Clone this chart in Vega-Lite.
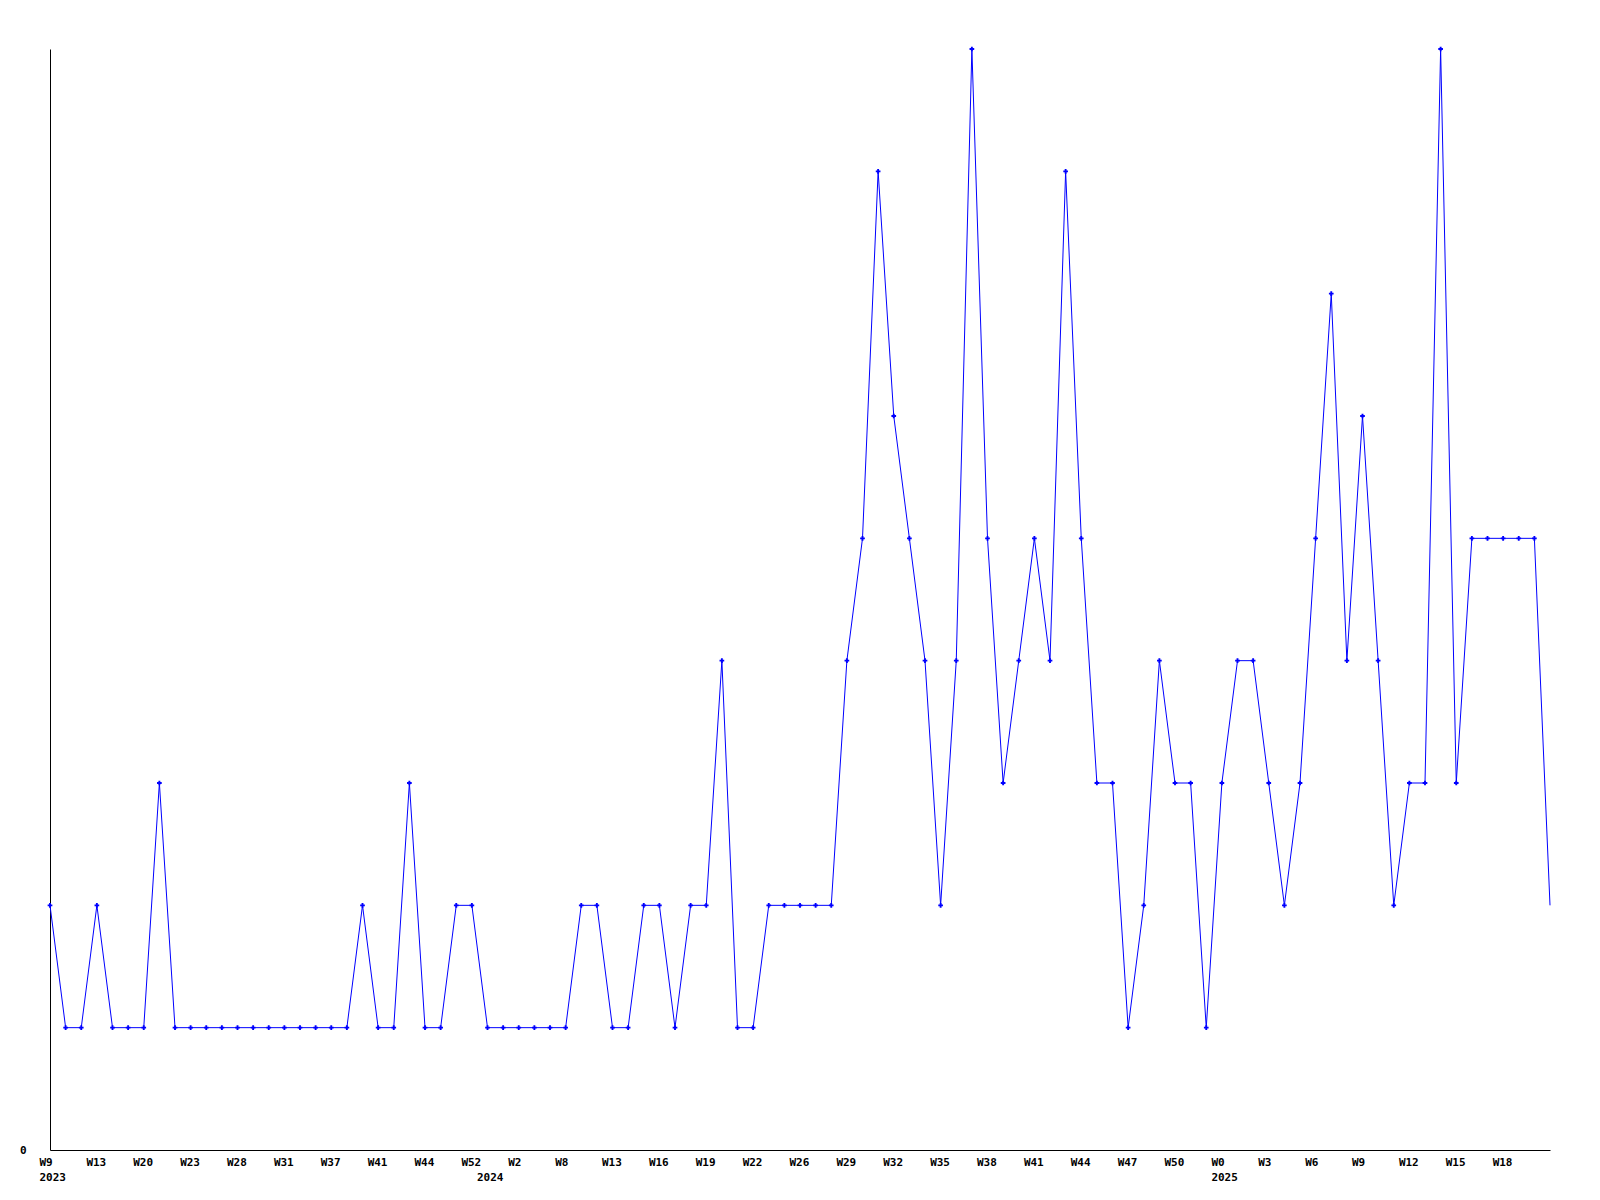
{
  "$schema": "https://vega.github.io/schema/vega-lite/v6.json",
  "width": 1500,
  "height": 1101,
  "autosize": {"type": "none"},
  "padding": {"left": 50, "top": 49, "right": 50, "bottom": 50},
  "background": "white",
  "config": {
    "view": {"stroke": null},
    "axis": {"labelFont": "DejaVu Sans Mono", "labelFontWeight": "bold", "labelFontSize": 11, "labelColor": "black", "domainColor": "black", "domainWidth": 1, "grid": false, "ticks": false}
  },
  "data": {
    "values": [
      {"i":0,"v":2},{"i":1,"v":1},{"i":2,"v":1},{"i":3,"v":2},{"i":4,"v":1},{"i":5,"v":1},{"i":6,"v":1},{"i":7,"v":3},{"i":8,"v":1},{"i":9,"v":1},
      {"i":10,"v":1},{"i":11,"v":1},{"i":12,"v":1},{"i":13,"v":1},{"i":14,"v":1},{"i":15,"v":1},{"i":16,"v":1},{"i":17,"v":1},{"i":18,"v":1},{"i":19,"v":1},
      {"i":20,"v":2},{"i":21,"v":1},{"i":22,"v":1},{"i":23,"v":3},{"i":24,"v":1},{"i":25,"v":1},{"i":26,"v":2},{"i":27,"v":2},{"i":28,"v":1},{"i":29,"v":1},
      {"i":30,"v":1},{"i":31,"v":1},{"i":32,"v":1},{"i":33,"v":1},{"i":34,"v":2},{"i":35,"v":2},{"i":36,"v":1},{"i":37,"v":1},{"i":38,"v":2},{"i":39,"v":2},
      {"i":40,"v":1},{"i":41,"v":2},{"i":42,"v":2},{"i":43,"v":4},{"i":44,"v":1},{"i":45,"v":1},{"i":46,"v":2},{"i":47,"v":2},{"i":48,"v":2},{"i":49,"v":2},
      {"i":50,"v":2},{"i":51,"v":4},{"i":52,"v":5},{"i":53,"v":8},{"i":54,"v":6},{"i":55,"v":5},{"i":56,"v":4},{"i":57,"v":2},{"i":58,"v":4},{"i":59,"v":9},
      {"i":60,"v":5},{"i":61,"v":3},{"i":62,"v":4},{"i":63,"v":5},{"i":64,"v":4},{"i":65,"v":8},{"i":66,"v":5},{"i":67,"v":3},{"i":68,"v":3},{"i":69,"v":1},
      {"i":70,"v":2},{"i":71,"v":4},{"i":72,"v":3},{"i":73,"v":3},{"i":74,"v":1},{"i":75,"v":3},{"i":76,"v":4},{"i":77,"v":4},{"i":78,"v":3},{"i":79,"v":2},
      {"i":80,"v":3},{"i":81,"v":5},{"i":82,"v":7},{"i":83,"v":4},{"i":84,"v":6},{"i":85,"v":4},{"i":86,"v":2},{"i":87,"v":3},{"i":88,"v":3},{"i":89,"v":9},
      {"i":90,"v":3},{"i":91,"v":5},{"i":92,"v":5},{"i":93,"v":5},{"i":94,"v":5},{"i":95,"v":5},{"i":96,"v":2}
    ]
  },
  "encoding": {
    "x": {
      "field": "i", "type": "quantitative",
      "scale": {"domain": [0, 96], "nice": false, "zero": false},
      "axis": {
        "title": null,
        "values": [0,3,6,9,12,15,18,21,24,27,28,30,33,36,39,42,45,48,51,54,57,60,63,66,69,72,75,78,81,84,87,90,93],
        "labelAlign": "left", "labelOffset": -11, "labelPadding": 6, "labelLineHeight": 15,
        "labelOverlap": false, "labelFlush": false, "labelBound": false,
        "labelExpr": "{'0':['W9','2023'],'3':['W13',''],'6':['W20',''],'9':['W23',''],'12':['W28',''],'15':['W31',''],'18':['W37',''],'21':['W41',''],'24':['W44',''],'27':['W52',''],'28':['','2024'],'30':['W2',''],'33':['W8',''],'36':['W13',''],'39':['W16',''],'42':['W19',''],'45':['W22',''],'48':['W26',''],'51':['W29',''],'54':['W32',''],'57':['W35',''],'60':['W38',''],'63':['W41',''],'66':['W44',''],'69':['W47',''],'72':['W50',''],'75':['W0','2025'],'78':['W3',''],'81':['W6',''],'84':['W9',''],'87':['W12',''],'90':['W15',''],'93':['W18','']}[''+datum.value]"
      }
    },
    "y": {
      "field": "v", "type": "quantitative",
      "scale": {"domain": [0, 9], "nice": false},
      "axis": {"title": null, "values": [0], "labelPadding": 24}
    }
  },
  "layer": [
    {"mark": {"type": "line", "color": "#0000ff", "strokeWidth": 1, "clip": false}},
    {
      "transform": [{"filter": "datum.i < 96"}],
      "mark": {"type": "point", "shape": "cross", "filled": true, "color": "#0000ff", "size": 22, "opacity": 1}
    }
  ]
}
